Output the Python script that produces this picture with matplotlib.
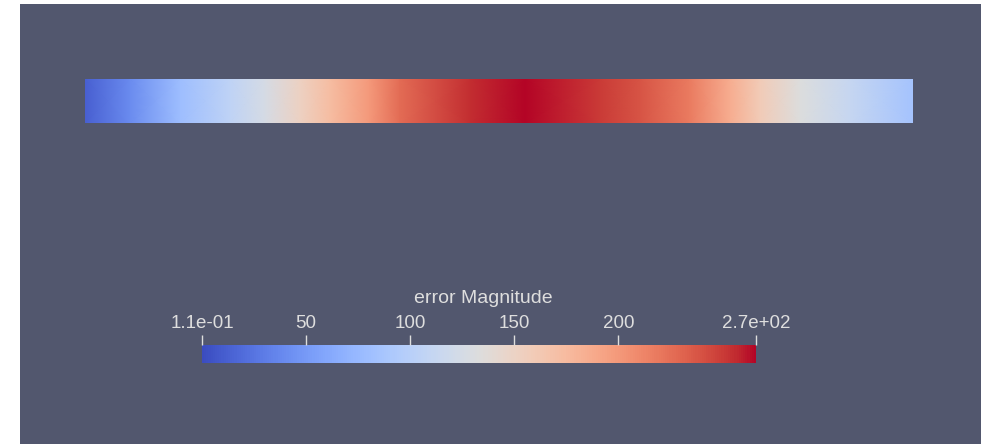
import numpy as np
import matplotlib
matplotlib.use("Agg")
import matplotlib.pyplot as plt
from matplotlib.colors import Normalize
from matplotlib.cm import ScalarMappable

# data: error magnitude sampled along the bar (position fraction 0..1)
sample_pos = [0.0, 0.054, 0.115, 0.175, 0.217, 0.26, 0.296, 0.344, 0.38, 0.465, 0.531,
              0.622, 0.67, 0.73, 0.779, 0.815, 0.864, 0.924, 1.0]
error_vals = [12, 40, 80, 106, 125, 152, 173, 200, 226, 255, 266,
              250, 238, 218, 186, 160, 133, 112, 85]
vmin, vmax = 0.11, 266.0
tick_vals = [0.11, 50, 100, 150, 200, 266]
tick_labels = ["1.1e-01", "50", "100", "150", "200", "2.7e+02"]
title = "error Magnitude"

W, H = 994, 444
bg = "#52576e"
txt = "#dedede"
cmap = plt.get_cmap("coolwarm")
norm = Normalize(vmin, vmax)
plt.rcParams["font.family"] = ["Liberation Sans", "DejaVu Sans"]

fig = plt.figure(figsize=(W / 100, H / 100), dpi=100, facecolor="white")

def px_axes(x0, y0, x1, y1):
    return fig.add_axes([x0 / W, 1 - y1 / H, (x1 - x0) / W, (y1 - y0) / H])

panel = px_axes(20, 4, 981, 444)
panel.set_facecolor(bg)
panel.set_xticks([]); panel.set_yticks([])
for s in panel.spines.values():
    s.set_visible(False)

# top bar
bar = px_axes(85, 79, 913, 123)
xs = np.array(sample_pos)
X, Y = np.meshgrid(xs, [0, 1])
C = np.vstack([error_vals, error_vals])
bar.pcolormesh(X, Y, C, cmap=cmap, norm=norm, shading="gouraud")
bar.set_xlim(0, 1); bar.set_ylim(0, 1)
bar.axis("off")

# colorbar
cax = px_axes(202, 345, 756, 363)
cb = fig.colorbar(ScalarMappable(norm=norm, cmap=cmap), cax=cax, orientation="horizontal")
cb.outline.set_visible(False)
cax.xaxis.set_ticks_position("top")
cax.xaxis.set_label_position("top")
cb.set_ticks(tick_vals)
cb.set_ticklabels(tick_labels)
cax.tick_params(axis="x", colors=txt, direction="out", length=7, width=1.0, pad=2,
                labelsize=13.5, labelcolor=txt)
fig.text(483 / W, 1 - 298 / H, title, color=txt, fontsize=14, ha="center", va="center")

fig.savefig("out.png", dpi=100, facecolor="white")
